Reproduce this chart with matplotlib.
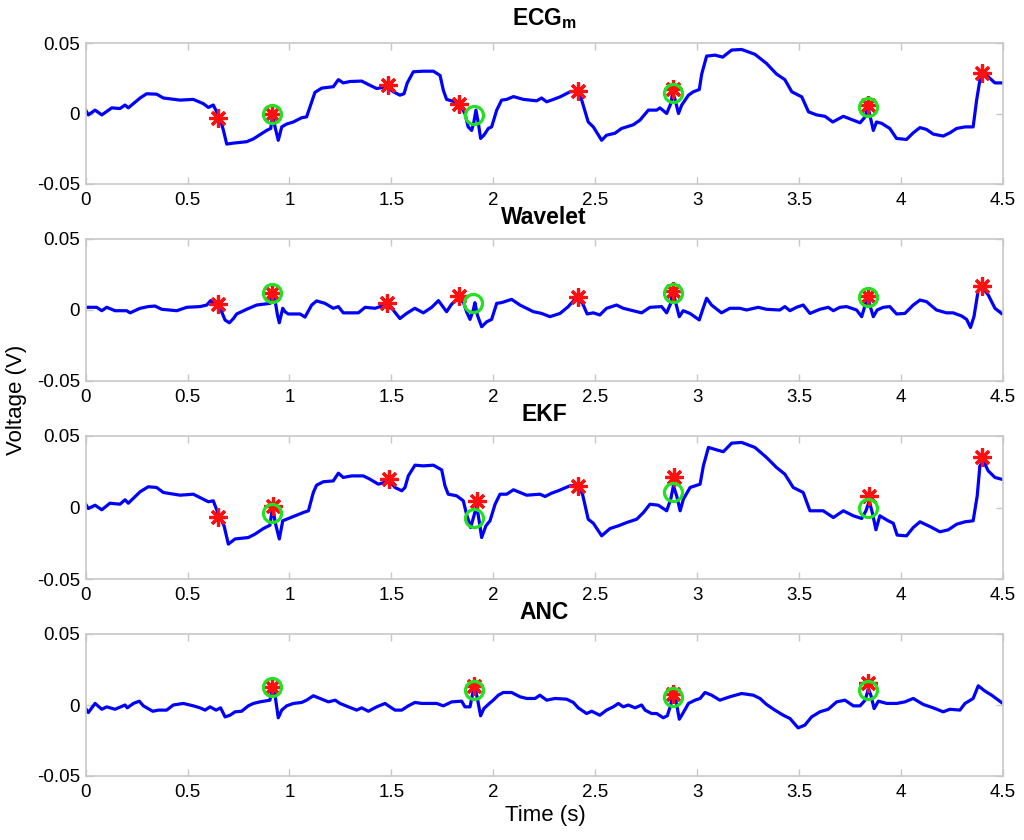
import matplotlib
matplotlib.use("Agg")
import matplotlib.pyplot as plt

plt.rcParams['font.family'] = ['Liberation Sans', 'DejaVu Sans']
plt.rcParams['mathtext.fontset'] = 'custom'
plt.rcParams['mathtext.rm'] = 'Liberation Sans'
plt.rcParams['mathtext.bf'] = 'Liberation Sans:bold'

# ---------------- data ----------------
titles = [r'$\mathbf{ECG}_{\mathbf{m}}$', 'Wavelet', 'EKF', 'ANC']
x_ticks = [0, 0.5, 1, 1.5, 2, 2.5, 3, 3.5, 4, 4.5]
x_tick_labels = ['0', '0.5', '1', '1.5', '2', '2.5', '3', '3.5', '4', '4.5']
y_ticks = [-0.05, 0, 0.05]
y_tick_labels = ['-0.05', '0', '0.05']

ecg_t = [0.000, 0.013, 0.046, 0.079, 0.128, 0.168, 0.193, 0.209, 0.267, 0.299,
         0.348, 0.381, 0.463, 0.528, 0.577, 0.602, 0.626, 0.659, 0.676, 0.692,
         0.725, 0.790, 0.823, 0.855, 0.888, 0.908, 0.918, 0.929, 0.945, 0.962,
         0.986, 1.019, 1.060, 1.084, 1.109, 1.125, 1.158, 1.215, 1.240, 1.264,
         1.297, 1.354, 1.395, 1.428, 1.477, 1.510, 1.542, 1.562, 1.578, 1.608,
         1.657, 1.706, 1.739, 1.755, 1.771, 1.812, 1.837, 1.861, 1.877, 1.894,
         1.905, 1.915, 1.927, 1.938, 1.954, 1.976, 1.992, 2.017, 2.041, 2.066,
         2.099, 2.148, 2.213, 2.237, 2.262, 2.295, 2.328, 2.377, 2.417, 2.434,
         2.466, 2.491, 2.532, 2.556, 2.597, 2.630, 2.687, 2.720, 2.761, 2.802,
         2.818, 2.851, 2.871, 2.881, 2.893, 2.909, 2.925, 2.958, 2.982, 3.011,
         3.023, 3.047, 3.088, 3.126, 3.170, 3.219, 3.284, 3.341, 3.390, 3.431,
         3.465, 3.514, 3.547, 3.587, 3.628, 3.666, 3.718, 3.767, 3.800, 3.825,
         3.838, 3.848, 3.865, 3.881, 3.906, 3.946, 3.979, 4.028, 4.061, 4.094,
         4.126, 4.159, 4.208, 4.241, 4.274, 4.315, 4.355, 4.372, 4.388, 4.405,
         4.429, 4.462, 4.494]
ecg_v = [0.0024, -0.0010, 0.0024, -0.0010, 0.0040, 0.0035, 0.0060, 0.0040, 0.0110, 0.0140,
         0.0137, 0.0110, 0.0095, 0.0100, 0.0070, 0.0043, 0.0060, -0.0035, -0.0120, -0.0217,
         -0.0210, -0.0200, -0.0180, -0.0150, -0.0120, -0.0106, 0.0000, -0.0095, -0.0190, -0.0095,
         -0.0075, -0.0060, -0.0030, -0.0024, 0.0083, 0.0150, 0.0180, 0.0190, 0.0240, 0.0217,
         0.0227, 0.0230, 0.0200, 0.0177, 0.0190, 0.0154, 0.0130, 0.0140, 0.0217, 0.0296,
         0.0300, 0.0300, 0.0270, 0.0165, 0.0100, 0.0083, 0.0060, 0.0000, -0.0095, -0.0120,
         -0.0060, 0.0024, -0.0070, -0.0177, -0.0154, -0.0106, -0.0095, 0.0024, 0.0095, 0.0100,
         0.0120, 0.0100, 0.0090, 0.0110, 0.0083, 0.0100, 0.0118, 0.0154, 0.0160, 0.0095,
         -0.0060, -0.0095, -0.0190, -0.0154, -0.0140, -0.0106, -0.0080, -0.0047, 0.0024, 0.0024,
         0.0040, 0.0000, 0.0070, 0.0150, 0.0095, 0.0000, 0.0060, 0.0130, 0.0154, 0.0170,
         0.0280, 0.0407, 0.0414, 0.0400, 0.0450, 0.0454, 0.0420, 0.0355, 0.0280, 0.0240,
         0.0154, 0.0118, 0.0012, -0.0010, -0.0020, -0.0060, -0.0020, -0.0047, -0.0066, -0.0024,
         0.0050, -0.0010, -0.0120, -0.0060, -0.0070, -0.0106, -0.0177, -0.0184, -0.0137, -0.0100,
         -0.0113, -0.0146, -0.0160, -0.0137, -0.0106, -0.0095, -0.0095, 0.0095, 0.0236, 0.0280,
         0.0260, 0.0217, 0.0217]

wav_t = [0.000, 0.054, 0.079, 0.103, 0.144, 0.201, 0.218, 0.267, 0.307, 0.340,
         0.373, 0.447, 0.496, 0.561, 0.594, 0.613, 0.635, 0.667, 0.684, 0.705,
         0.725, 0.741, 0.790, 0.839, 0.905, 0.918, 0.929, 0.941, 0.950, 0.967,
         0.978, 0.994, 1.052, 1.076, 1.109, 1.133, 1.174, 1.215, 1.240, 1.264,
         1.338, 1.371, 1.420, 1.453, 1.502, 1.542, 1.575, 1.615, 1.657, 1.698,
         1.731, 1.771, 1.796, 1.820, 1.853, 1.869, 1.886, 1.902, 1.910, 1.922,
         1.943, 1.968, 1.992, 2.017, 2.041, 2.090, 2.131, 2.197, 2.237, 2.278,
         2.328, 2.368, 2.409, 2.438, 2.461, 2.491, 2.523, 2.556, 2.605, 2.638,
         2.687, 2.728, 2.769, 2.826, 2.851, 2.871, 2.881, 2.896, 2.913, 2.932,
         2.965, 3.011, 3.027, 3.047, 3.071, 3.120, 3.161, 3.210, 3.243, 3.300,
         3.341, 3.406, 3.431, 3.456, 3.488, 3.521, 3.554, 3.603, 3.644, 3.669,
         3.701, 3.734, 3.783, 3.808, 3.825, 3.838, 3.848, 3.865, 3.884, 3.914,
         3.946, 3.979, 4.020, 4.061, 4.094, 4.126, 4.175, 4.224, 4.257, 4.298,
         4.323, 4.342, 4.359, 4.380, 4.397, 4.429, 4.462, 4.494]
wav_v = [0.0019, 0.0019, -0.0005, 0.0019, -0.0005, -0.0005, -0.0020, 0.0012, 0.0024, 0.0028,
         0.0005, -0.0005, 0.0019, 0.0024, 0.0035, 0.0066, 0.0035, -0.0012, -0.0071, -0.0090,
         -0.0060, -0.0028, 0.0005, 0.0035, 0.0047, 0.0130, 0.0070, -0.0035, -0.0090, 0.0012,
         -0.0012, -0.0028, -0.0028, -0.0050, 0.0035, 0.0064, 0.0047, 0.0012, 0.0024, -0.0020,
         -0.0020, 0.0019, 0.0012, 0.0028, 0.0012, -0.0060, -0.0024, 0.0012, -0.0020, 0.0019,
         0.0066, -0.0012, 0.0042, 0.0070, 0.0059, -0.0012, -0.0066, 0.0000, 0.0052, -0.0035,
         -0.0118, -0.0083, -0.0066, 0.0047, 0.0052, 0.0075, 0.0035, -0.0012, -0.0024, -0.0047,
         -0.0024, 0.0024, 0.0090, 0.0047, -0.0028, -0.0020, -0.0035, 0.0012, 0.0035, 0.0012,
         -0.0005, -0.0020, 0.0019, 0.0024, -0.0020, 0.0047, 0.0140, 0.0047, -0.0047, -0.0005,
         -0.0024, -0.0070, 0.0000, 0.0083, 0.0035, -0.0020, 0.0012, 0.0012, 0.0000, 0.0019,
         0.0005, 0.0000, 0.0024, -0.0005, 0.0019, 0.0035, -0.0024, 0.0005, 0.0019, -0.0005,
         0.0019, 0.0024, 0.0000, -0.0047, 0.0035, 0.0094, 0.0035, -0.0047, 0.0000, 0.0019,
         0.0024, -0.0028, -0.0024, 0.0035, 0.0070, 0.0059, 0.0000, -0.0020, -0.0020, -0.0042,
         -0.0066, -0.0123, -0.0047, 0.0140, 0.0165, 0.0106, 0.0012, -0.0024]

ekf_t = [0.000, 0.013, 0.046, 0.079, 0.119, 0.168, 0.193, 0.209, 0.267, 0.307,
         0.348, 0.381, 0.463, 0.528, 0.577, 0.602, 0.626, 0.651, 0.679, 0.700,
         0.733, 0.798, 0.831, 0.872, 0.904, 0.918, 0.929, 0.950, 0.967, 0.994,
         1.019, 1.068, 1.093, 1.117, 1.133, 1.166, 1.215, 1.240, 1.264, 1.305,
         1.362, 1.395, 1.436, 1.490, 1.518, 1.551, 1.567, 1.583, 1.616, 1.657,
         1.706, 1.747, 1.763, 1.779, 1.820, 1.853, 1.869, 1.889, 1.910, 1.919,
         1.932, 1.943, 1.964, 1.984, 2.009, 2.033, 2.066, 2.099, 2.164, 2.229,
         2.254, 2.286, 2.319, 2.377, 2.417, 2.438, 2.466, 2.491, 2.532, 2.573,
         2.614, 2.655, 2.704, 2.737, 2.769, 2.810, 2.851, 2.871, 2.884, 2.900,
         2.917, 2.933, 2.966, 3.015, 3.031, 3.056, 3.096, 3.129, 3.170, 3.219,
         3.284, 3.341, 3.390, 3.431, 3.472, 3.521, 3.554, 3.619, 3.669, 3.718,
         3.767, 3.808, 3.829, 3.845, 3.862, 3.878, 3.897, 3.938, 3.963, 3.982,
         4.028, 4.061, 4.094, 4.143, 4.192, 4.233, 4.274, 4.315, 4.355, 4.375,
         4.388, 4.405, 4.429, 4.462, 4.494]
ekf_v = [0.0023, -0.0007, 0.0016, -0.0016, 0.0030, 0.0023, 0.0054, 0.0030, 0.0110, 0.0145,
         0.0140, 0.0105, 0.0086, 0.0093, 0.0058, 0.0040, 0.0047, -0.0047, -0.0128, -0.0256,
         -0.0220, -0.0210, -0.0186, -0.0147, -0.0124, 0.0012, -0.0100, -0.0220, -0.0093, -0.0077,
         -0.0063, -0.0035, -0.0023, 0.0105, 0.0156, 0.0180, 0.0186, 0.0240, 0.0210, 0.0221,
         0.0221, 0.0198, 0.0163, 0.0186, 0.0140, 0.0117, 0.0140, 0.0221, 0.0296, 0.0291,
         0.0296, 0.0263, 0.0152, 0.0093, 0.0082, 0.0047, -0.0047, -0.0140, -0.0035, 0.0012,
         -0.0105, -0.0210, -0.0128, -0.0093, 0.0023, 0.0093, 0.0093, 0.0124, 0.0086, 0.0093,
         0.0077, 0.0100, 0.0117, 0.0152, 0.0152, 0.0093, -0.0082, -0.0110, -0.0198, -0.0147,
         -0.0128, -0.0105, -0.0082, -0.0035, 0.0023, 0.0016, -0.0023, 0.0058, 0.0152, 0.0082,
         -0.0023, 0.0058, 0.0140, 0.0163, 0.0291, 0.0420, 0.0403, 0.0390, 0.0450, 0.0455,
         0.0420, 0.0350, 0.0280, 0.0233, 0.0140, 0.0105, -0.0023, -0.0023, -0.0070, -0.0023,
         -0.0058, -0.0077, -0.0023, 0.0047, -0.0047, -0.0156, -0.0058, -0.0093, -0.0110, -0.0193,
         -0.0198, -0.0140, -0.0100, -0.0133, -0.0170, -0.0156, -0.0117, -0.0100, -0.0093, 0.0082,
         0.0291, 0.0326, 0.0256, 0.0210, 0.0198]

anc_t = [0.000, 0.013, 0.046, 0.079, 0.103, 0.144, 0.193, 0.204, 0.234, 0.263,
         0.283, 0.329, 0.357, 0.397, 0.430, 0.479, 0.528, 0.561, 0.586, 0.610,
         0.640, 0.662, 0.684, 0.708, 0.733, 0.765, 0.798, 0.823, 0.855, 0.904,
         0.918, 0.929, 0.945, 0.962, 0.986, 1.019, 1.060, 1.084, 1.117, 1.150,
         1.191, 1.224, 1.248, 1.289, 1.330, 1.354, 1.387, 1.428, 1.469, 1.493,
         1.518, 1.551, 1.583, 1.616, 1.649, 1.682, 1.722, 1.755, 1.796, 1.845,
         1.861, 1.886, 1.899, 1.910, 1.922, 1.938, 1.954, 1.981, 2.000, 2.025,
         2.049, 2.090, 2.131, 2.164, 2.205, 2.229, 2.262, 2.303, 2.360, 2.393,
         2.417, 2.458, 2.483, 2.523, 2.556, 2.589, 2.614, 2.638, 2.663, 2.696,
         2.728, 2.745, 2.777, 2.802, 2.834, 2.854, 2.871, 2.884, 2.896, 2.913,
         2.930, 2.958, 2.990, 3.015, 3.039, 3.072, 3.112, 3.161, 3.219, 3.276,
         3.309, 3.341, 3.382, 3.423, 3.456, 3.496, 3.529, 3.562, 3.603, 3.644,
         3.685, 3.726, 3.767, 3.800, 3.825, 3.841, 3.853, 3.869, 3.890, 3.931,
         3.980, 4.020, 4.061, 4.110, 4.159, 4.208, 4.241, 4.290, 4.315, 4.355,
         4.380, 4.413, 4.446, 4.494]
anc_v = [-0.0025, -0.0053, 0.0011, -0.0030, -0.0013, -0.0030, 0.0000, -0.0020, 0.0011, 0.0027,
         -0.0006, -0.0044, -0.0036, -0.0036, 0.0000, 0.0011, -0.0006, -0.0020, -0.0036, -0.0013,
         -0.0036, -0.0020, -0.0084, -0.0072, -0.0048, -0.0044, -0.0006, 0.0011, 0.0022, 0.0034,
         0.0135, 0.0070, -0.0090, -0.0036, -0.0006, 0.0011, 0.0018, 0.0034, 0.0065, 0.0046,
         0.0022, 0.0034, 0.0011, -0.0013, -0.0036, -0.0020, -0.0044, -0.0013, 0.0011, -0.0013,
         -0.0036, -0.0036, -0.0006, 0.0018, 0.0011, 0.0011, 0.0011, -0.0006, 0.0022, 0.0027,
         -0.0013, -0.0013, 0.0081, 0.0128, 0.0046, -0.0076, -0.0025, 0.0011, 0.0034, 0.0069,
         0.0088, 0.0088, 0.0058, 0.0046, 0.0046, 0.0069, 0.0034, 0.0046, 0.0041, 0.0018,
         -0.0020, -0.0060, -0.0044, -0.0072, -0.0036, -0.0013, 0.0011, -0.0013, 0.0000, -0.0020,
         0.0000, -0.0036, -0.0060, -0.0060, -0.0090, -0.0076, 0.0000, 0.0098, 0.0034, -0.0100,
         -0.0060, 0.0011, 0.0034, 0.0046, 0.0088, 0.0069, 0.0034, 0.0058, 0.0081, 0.0069,
         0.0046, 0.0004, -0.0036, -0.0072, -0.0095, -0.0161, -0.0142, -0.0084, -0.0048, -0.0030,
         0.0022, 0.0034, -0.0006, -0.0006, 0.0034, 0.0116, 0.0069, -0.0025, 0.0027, 0.0011,
         0.0011, 0.0022, 0.0046, 0.0004, -0.0020, -0.0048, -0.0030, -0.0036, 0.0011, 0.0046,
         0.0135, 0.0098, 0.0069, 0.0018]

# detected peaks (red asterisks) and reference peaks (green circles)
ecg_star_t = [0.651, 0.916, 1.482, 1.833, 2.417, 2.884, 3.838, 4.400]
ecg_star_v = [-0.0035, -0.0007, 0.0200, 0.0064, 0.0160, 0.0177, 0.0060, 0.0284]
ecg_circ_t = [0.916, 1.905, 2.884, 3.841]
ecg_circ_v = [-0.0007, -0.0010, 0.0147, 0.0043]

wav_star_t = [0.648, 0.913, 1.480, 1.834, 2.417, 2.884, 3.838, 4.397]
wav_star_v = [0.0042, 0.0123, 0.0047, 0.0099, 0.0094, 0.0134, 0.0099, 0.0172]
wav_circ_t = [0.913, 1.902, 2.884, 3.838]
wav_circ_v = [0.0123, 0.0047, 0.0118, 0.0094]

ekf_star_t = [0.651, 0.920, 1.490, 1.922, 2.417, 2.887, 3.845, 4.400]
ekf_star_v = [-0.0063, 0.0012, 0.0198, 0.0047, 0.0152, 0.0210, 0.0082, 0.0350]
ekf_circ_t = [0.913, 1.905, 2.884, 3.841]
ekf_circ_v = [-0.0040, -0.0070, 0.0110, 0.0000]

anc_star_t = [0.916, 1.905, 2.884, 3.838]
anc_star_v = [0.0124, 0.0135, 0.0074, 0.0152]
anc_circ_t = [0.916, 1.905, 2.884, 3.841]
anc_circ_v = [0.0124, 0.0105, 0.0058, 0.0105]

traces = [(ecg_t, ecg_v), (wav_t, wav_v), (ekf_t, ekf_v), (anc_t, anc_v)]
stars = [(ecg_star_t, ecg_star_v), (wav_star_t, wav_star_v),
         (ekf_star_t, ekf_star_v), (anc_star_t, anc_star_v)]
circles = [(ecg_circ_t, ecg_circ_v), (wav_circ_t, wav_circ_v),
           (ekf_circ_t, ekf_circ_v), (anc_circ_t, anc_circ_v)]

# ---------------- figure ----------------
W, H = 1024, 840
fig = plt.figure(figsize=(W / 100, H / 100), dpi=100)
fig.patch.set_facecolor('white')

left_px, right_px = 85.7, 1002.7
axes_px = [(43, 184), (239, 381), (436, 579), (634, 776)]
grey = '#c8c8c8'

for i, (top, bot) in enumerate(axes_px):
    ax = fig.add_axes([left_px / W, 1 - bot / H, (right_px - left_px) / W, (bot - top) / H])
    t, v = traces[i]
    ax.plot(t, v, color='#0000ff', lw=2.3, solid_joinstyle='round', zorder=2)
    st, sv = stars[i]
    ax.plot(st, sv, linestyle='none', marker=(8, 2, 0), markersize=13,
            markeredgewidth=2.3, color='#ff1010', zorder=3)
    ct, cv = circles[i]
    ax.plot(ct, cv, linestyle='none', marker='o', markersize=13,
            markerfacecolor='none', markeredgewidth=2.3, markeredgecolor='#22e022', zorder=4)
    ax.set_xlim(0, 4.5)
    ax.set_ylim(-0.05, 0.05)
    ax.set_xticks(x_ticks)
    ax.set_xticklabels(x_tick_labels)
    ax.set_yticks(y_ticks)
    ax.set_yticklabels(y_tick_labels)
    ax.tick_params(axis='both', direction='in', top=True, right=True, length=5,
                   width=1, color=grey, labelsize=13.5, labelcolor='black')
    ax.tick_params(axis='x', pad=6)
    ax.tick_params(axis='y', pad=4)
    for sp in ax.spines.values():
        sp.set_color(grey)
        sp.set_linewidth(1.2)
    pad = 13.0 if i == 0 else 11.0
    ax.set_title(titles[i], fontsize=16.5, fontweight='bold', pad=pad)

fig.text(17 / W, 1 - 400 / H, 'Voltage (V)', rotation=90, fontsize=16,
         ha='center', va='center')
fig.text(545 / W, 1 - 815 / H, 'Time (s)', fontsize=16, ha='center', va='center')

fig.savefig('out.png', dpi=100, facecolor='white')
